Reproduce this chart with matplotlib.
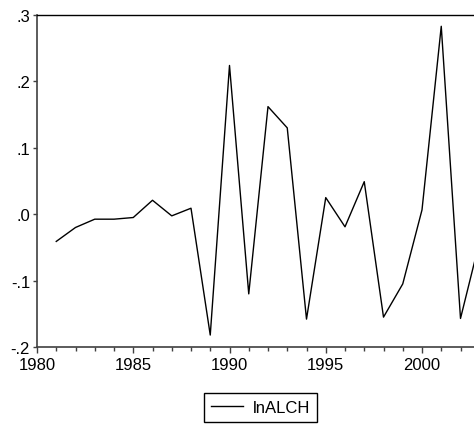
import matplotlib
matplotlib.use("Agg")
import matplotlib.pyplot as plt
from matplotlib.ticker import MultipleLocator

plt.rcParams['font.family'] = ['Liberation Sans', 'DejaVu Sans']

years = [1981, 1982, 1983, 1984, 1985, 1986, 1987, 1988, 1989, 1990, 1991,
         1992, 1993, 1994, 1995, 1996, 1997, 1998, 1999, 2000, 2001, 2002, 2003]
lnalch = [-0.041, -0.020, -0.0075, -0.0075, -0.005, 0.021, -0.0025, 0.009,
          -0.182, 0.224, -0.120, 0.162, 0.130, -0.158, 0.025, -0.019, 0.049,
          -0.155, -0.105, 0.0065, 0.283, -0.157, -0.040]

y_ticks = [-0.2, -0.1, 0.0, 0.1, 0.2, 0.3]
y_labels = ['-.2', '-.1', '.0', '.1', '.2', '.3']
x_ticks = [1980, 1985, 1990, 1995, 2000]

fig = plt.figure(figsize=(4.74, 4.27), dpi=100)
ax = fig.add_axes([37 / 474, 1 - 348 / 427, 1 - 37 / 474, (348 - 16) / 427])

ax.plot(years, lnalch, color='black', lw=1.0, label='lnALCH')

ax.set_xlim(1980, 1980 + (474 - 37) / 19.25)
ax.set_ylim(-0.2, 0.3)
ax.set_yticks(y_ticks)
ax.set_yticklabels(y_labels)
ax.set_xticks(x_ticks)
ax.set_xticklabels([str(x) for x in x_ticks])
ax.xaxis.set_minor_locator(MultipleLocator(1))

ax.tick_params(axis='both', which='major', direction='out', labelsize=12,
               color='#404040', width=1.0)
ax.tick_params(axis='x', which='major', length=4.5, pad=3)
ax.tick_params(axis='x', which='minor', length=3, direction='out',
               color='#404040', width=1.0)
ax.tick_params(axis='y', which='major', length=3, pad=2)

ax.spines['right'].set_visible(False)
ax.spines['top'].set_color('black')
ax.spines['top'].set_linewidth(1.0)
for s in ['left', 'bottom']:
    ax.spines[s].set_color('#404040')
    ax.spines[s].set_linewidth(1.2)

leg = fig.legend(loc='center', bbox_to_anchor=(260.5 / 474, 1 - 408.5 / 427),
                 fontsize=12, fancybox=False, framealpha=1, edgecolor='black',
                 handlelength=1.9, borderpad=0.4, handletextpad=0.6)
leg.get_frame().set_linewidth(1.0)

fig.savefig('out.png', dpi=100)
